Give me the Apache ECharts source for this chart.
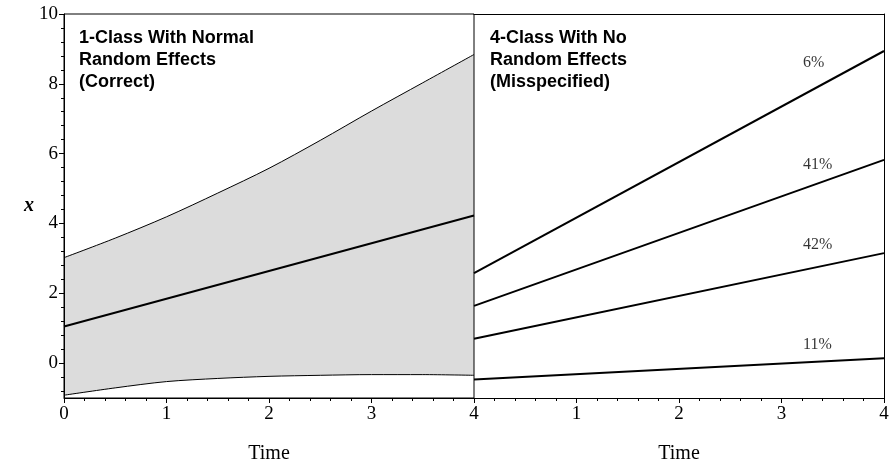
<!DOCTYPE html>
<html><head><meta charset="utf-8">
<script src="https://cdn.jsdelivr.net/npm/echarts@6/dist/echarts.min.js"></script>
<style>html,body{margin:0;padding:0;background:#fff}#c{width:896px;height:469px}</style>
</head><body><div id="c"></div>
<script>
// ---- data ----
const time = [0, 0.5, 1, 1.5, 2, 2.5, 3, 3.5, 4];
const bandUpper = [3.02, 3.58, 4.19, 4.87, 5.58, 6.38, 7.22, 8.03, 8.84];
const bandLower = [-0.92, -0.71, -0.53, -0.44, -0.38, -0.35, -0.33, -0.33, -0.35];
const meanTime = [0, 4];
const meanLine = [1.05, 4.23];
const classTime = [0, 4];
const class6 = [2.58, 8.94];
const class41 = [1.64, 5.82];
const class42 = [0.70, 3.15];
const class11 = [-0.47, 0.14];
const classLabels = ['6%', '41%', '42%', '11%'];
const yTickValues = [0, 2, 4, 6, 8, 10];
const xTickLabelsLeft = ['0', '1', '2', '3', '4'];
const xTickLabelsRight = ['', '1', '2', '3', '4'];
const panelTitles = ['1-Class With Normal\nRandom Effects\n(Correct)', '4-Class With No\nRandom Effects\n(Misspecified)'];
const xTitle = 'Time';
const yTitle = 'x';
// label anchor positions (data units) for the class percentages
const labelAnchorT = 3.21;
const labelAnchorY = [8.61, 5.69, 3.38, 0.53];

// ---- build ----
const zip = (xs, ys) => xs.map((x, i) => [x, ys[i]]);
const minorY = [];
for (let k = -2; k <= 25; k++) { const v = +(k * 0.4).toFixed(2); if (v >= -1 && v <= 10) minorY.push(v); }

const serif = 'Liberation Serif';
const sans = 'Liberation Sans';
const black = '#000';

function xAxisCfg(grid, labels) {
  return {
    type: 'value', gridIndex: grid, min: 0, max: 4, interval: 1, z: 10,
    axisLine: { show: true, onZero: false, lineStyle: { color: black, width: 1 } },
    axisTick: { show: true, length: 5, lineStyle: { color: black } },
    minorTick: { show: true, splitNumber: 5, length: 3, lineStyle: { color: black, width: 1 } },
    splitLine: { show: false }, minorSplitLine: { show: false },
    axisLabel: { color: black, fontFamily: serif, fontSize: 19, margin: 7,
      formatter: v => labels[Math.round(v)] },
    name: xTitle, nameLocation: 'middle', nameGap: 46,
    nameTextStyle: { color: black, fontFamily: serif, fontSize: 20 }
  };
}

const option = {
  animation: false,
  backgroundColor: '#fff',
  title: panelTitles.map((t, i) => ({
    text: t, left: i === 0 ? 79 : 490, top: 27, padding: 0, z: 20,
    textStyle: { fontFamily: sans, fontWeight: 'bold', fontSize: 18, lineHeight: 22, color: black }
  })),
  grid: [
    { left: 64, top: 14, width: 410, height: 388, show: true, z: 10, borderColor: black, borderWidth: 1, backgroundColor: 'transparent' },
    { left: 474, top: 14, width: 410, height: 388, show: false }
  ],
  xAxis: [xAxisCfg(0, xTickLabelsLeft), xAxisCfg(1, xTickLabelsRight),
    { type: 'value', gridIndex: 1, min: 0, max: 4, position: 'top', z: 10,
      axisLine: { show: true, onZero: false, lineStyle: { color: black } },
      axisTick: { show: false }, axisLabel: { show: false }, splitLine: { show: false } }],
  yAxis: [
    { type: 'value', gridIndex: 0, min: -1, max: 10, position: 'left', z: 10,
      axisLine: { show: true, onZero: false, lineStyle: { color: black } },
      axisTick: { show: true, length: 5, customValues: yTickValues, lineStyle: { color: black } },
      axisLabel: { show: true, customValues: yTickValues, color: black, fontFamily: serif, fontSize: 19, margin: 6 },
      splitLine: { show: false },
      name: yTitle, nameLocation: 'middle', nameRotate: 0, nameGap: 30,
      nameTextStyle: { color: black, fontFamily: serif, fontStyle: 'italic', fontWeight: 'bold', fontSize: 20 } },
    { type: 'value', gridIndex: 0, min: -1, max: 10, position: 'left', offset: 0, z: 10,
      axisLine: { show: false, onZero: false },
      axisTick: { show: true, length: 3, customValues: minorY, lineStyle: { color: black } },
      axisLabel: { show: false, customValues: minorY },
      splitLine: { show: false } },
    { type: 'value', gridIndex: 1, min: -1, max: 10, position: 'left', z: 10,
      axisLine: { show: false, onZero: false },
      axisTick: { show: false }, axisLabel: { show: false }, splitLine: { show: false } },
    { type: 'value', gridIndex: 1, min: -1, max: 10, position: 'right', z: 10,
      axisLine: { show: true, onZero: false, lineStyle: { color: black } },
      axisTick: { show: false }, axisLabel: { show: false }, splitLine: { show: false } }
  ],
  series: [
    // grey band: upper curve filled down to the axis minimum, then white below the lower curve
    { type: 'line', xAxisIndex: 0, yAxisIndex: 0, data: zip(time, bandUpper), smooth: 0.3, symbol: 'none',
      lineStyle: { color: black, width: 1 }, areaStyle: { color: '#dcdcdc', opacity: 1, origin: 'start' }, z: 1 },
    { type: 'line', xAxisIndex: 0, yAxisIndex: 0, data: zip(time, bandLower), smooth: 0.3, symbol: 'none',
      lineStyle: { color: black, width: 1 }, areaStyle: { color: '#ffffff', opacity: 1, origin: 'start' }, z: 2 },
    { type: 'line', xAxisIndex: 0, yAxisIndex: 0, data: zip(meanTime, meanLine), symbol: 'none',
      lineStyle: { color: black, width: 2 }, z: 3 },
    ...[class6, class41, class42, class11].map(c => ({
      type: 'line', xAxisIndex: 1, yAxisIndex: 2, data: zip(classTime, c), symbol: 'none',
      lineStyle: { color: black, width: 2 }, z: 3 })),
    { type: 'scatter', xAxisIndex: 1, yAxisIndex: 2, symbolSize: 0, silent: true,
      data: labelAnchorY.map((y, i) => ({ value: [labelAnchorT, y], name: classLabels[i] })),
      label: { show: true, position: [0, 0], align: 'left', verticalAlign: 'middle',
        formatter: p => p.name, color: black, fontFamily: serif, fontSize: 16 } }
  ]
};
const chart = echarts.init(document.getElementById('c'), null, { renderer: 'canvas' });
chart.setOption(option);
</script></body></html>
